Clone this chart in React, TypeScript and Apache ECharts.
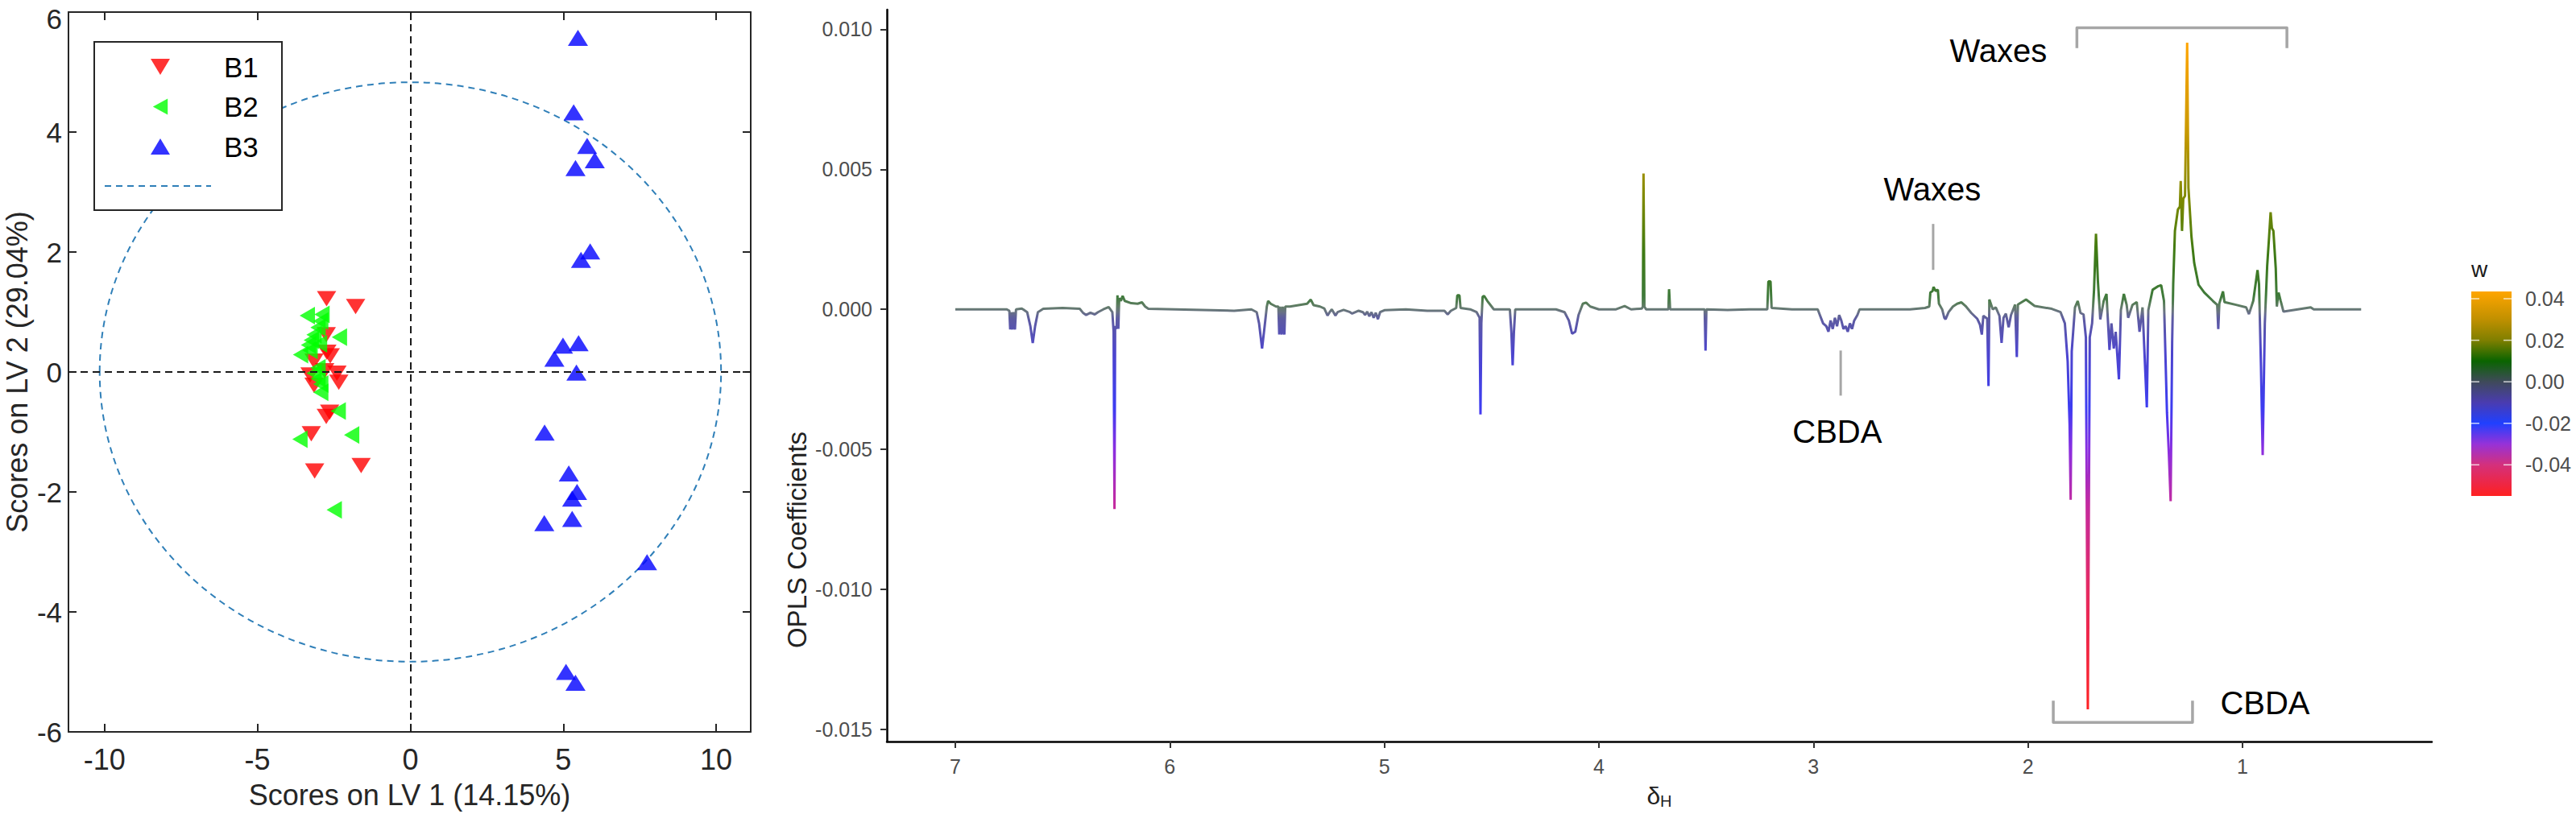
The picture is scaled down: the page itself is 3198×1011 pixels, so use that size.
import React, { useEffect, useRef } from "react";
import * as echarts from "echarts";

const W = 3198;
const H = 1011;
const FONT = "Liberation Sans";

// ---------- Left panel: PLS-DA scores ----------
const B1: [number, number][] = [
  [-2.74, 1.22], [-1.79, 1.09], [-2.75, 0.62], [-2.73, 0.33], [-2.62, 0.27],
  [-3.15, 0.18], [-3.28, -0.05], [-2.8, 0.02], [-2.4, -0.02], [-2.34, -0.17],
  [-3.15, -0.22], [-2.75, -0.74], [-2.64, -0.67], [-3.24, -1.03], [-3.13, -1.65],
  [-1.61, -1.56],
];
const B2: [number, number][] = [
  [-3.37, 0.94], [-2.89, 0.96], [-2.93, 0.85], [-3.02, 0.74], [-3.15, 0.62],
  [-3.24, 0.53], [-2.32, 0.58], [-3.33, 0.45], [-2.97, 0.47], [-3.59, 0.29],
  [-3.28, 0.36], [-3.02, 0.07], [-3.15, -0.02], [-3.02, -0.11], [-2.93, -0.2],
  [-2.93, -0.34], [-2.36, -0.65], [-1.92, -1.05], [-3.61, -1.12], [-2.49, -2.3],
];
const B3: [number, number][] = [
  [5.48, 5.57], [5.34, 4.33], [5.78, 3.77], [6.03, 3.53], [5.4, 3.4],
  [5.88, 2.01], [5.58, 1.87], [5.5, 0.48], [4.99, 0.44], [4.71, 0.22],
  [5.43, -0.01], [4.39, -1.01], [5.18, -1.69], [5.45, -2.0], [5.29, -2.11],
  [5.29, -2.45], [4.38, -2.52], [7.74, -3.17], [5.09, -5.0], [5.4, -5.18],
];
const ellipseRadii: [number, number] = [10.16, 4.83];
const scoreXTicks = [-10, -5, 0, 5, 10];
const scoreXRange: [number, number] = [-11.18, 11.13];
const scoreYRange: [number, number] = [-6, 6];

// ---------- Right panel: OPLS coefficients (delta ppm, coefficient) ----------
const spectrum: [number, number][] = [
  [7.0, 0], [6.8, 0], [6.76, 0], [6.748, -0.00005], [6.744, -0.00072], [6.74, -0.0001],
  [6.734, -0.00072], [6.729, -0.0001], [6.722, -0.00072], [6.717, 0], [6.69, 0.00003],
  [6.665, -0.0001], [6.65, -0.0006], [6.639, -0.0012], [6.628, -0.0006], [6.615, -0.0001],
  [6.59, 0.00002], [6.5, 0.00005], [6.42, 0.00002], [6.405, -0.00012], [6.39, -0.0002],
  [6.37, -0.00012], [6.35, -0.00018], [6.335, -0.0001], [6.31, 0], [6.285, 0.00008],
  [6.268, -0.0001], [6.262, -0.0008], [6.258, -0.00713], [6.255, -0.0006], [6.248, -0.0007],
  [6.244, 0.0005], [6.24, -0.0007], [6.236, 0.0004], [6.228, 0.0003], [6.22, 0.00048],
  [6.21, 0.0003], [6.18, 0.00022], [6.15, 0.0002], [6.13, 0.00025], [6.115, 0.0001],
  [6.1, 0.00002], [5.7, -0.00005], [5.62, 0], [5.595, -0.0001], [5.584, -0.0005],
  [5.57, -0.0014], [5.558, -0.0006], [5.548, 0.0001], [5.542, 0.0003], [5.53, 0.0002],
  [5.505, 0.0001], [5.494, 0.0001], [5.49, -0.0009], [5.486, 0.0001], [5.478, -0.0009],
  [5.474, 0.0001], [5.466, -0.0009], [5.462, 0.0001], [5.44, 0.0001], [5.4, 0.00015],
  [5.36, 0.0002], [5.343, 0.00035], [5.33, 0.00015], [5.3, 0.0001], [5.28, 0.00003],
  [5.265, -0.00022], [5.255, -0.0001], [5.245, 0], [5.228, -0.00022], [5.218, -0.0001],
  [5.19, -0.00002], [5.16, -0.0001], [5.15, -0.00015], [5.12, -0.00005], [5.1, -0.0001],
  [5.09, -0.0002], [5.08, -0.00008], [5.07, -0.00025], [5.06, -0.0001], [5.05, -0.0003],
  [5.04, -0.00012], [5.03, -0.00035], [5.02, -0.0001], [5.0, -0.00003], [4.9, 0],
  [4.8, -0.00005], [4.72, -0.00005], [4.705, -0.00018], [4.69, -0.00005], [4.665, 0.00005],
  [4.66, 0.0005], [4.65, 0.0005], [4.645, 0.00005], [4.6, 0], [4.57, -0.0001],
  [4.556, -0.0003], [4.552, -0.00375], [4.548, -0.0005], [4.542, 0.00045], [4.535, 0.00048],
  [4.52, 0.0003], [4.5, 0.0001], [4.49, 0], [4.415, 0], [4.408, -0.0008], [4.402, -0.002],
  [4.396, -0.0008], [4.39, 0], [4.2, 0], [4.16, -0.0001], [4.14, -0.0004], [4.125, -0.00087],
  [4.11, -0.0008], [4.095, -0.0002], [4.075, 0.0002], [4.06, 0.00024], [4.04, 0.0001],
  [4.0, 0], [3.92, 0], [3.88, 0.00012], [3.85, 0], [3.8, 0.00003], [3.795, 0.0001],
  [3.792, 0.00485], [3.788, 0.0001], [3.78, 0], [3.68, 0], [3.676, 0], [3.673, 0.00072],
  [3.668, 0], [3.55, 0], [3.507, 0], [3.503, -0.00147], [3.499, 0], [3.4, -0.00002],
  [3.3, 0], [3.215, 0], [3.21, 0.001], [3.2, 0.001], [3.195, 0.00005], [3.1, 0], [2.98, 0],
  [2.97, -0.0002], [2.955, -0.0005], [2.94, -0.0006], [2.93, -0.0008], [2.92, -0.0004],
  [2.91, -0.0007], [2.9, -0.0003], [2.89, -0.0006], [2.88, -0.0002], [2.87, -0.0004],
  [2.86, -0.0007], [2.85, -0.0006], [2.84, -0.0008], [2.83, -0.0005], [2.82, -0.0007],
  [2.81, -0.0004], [2.795, -0.0002], [2.785, 0], [2.7, 0], [2.55, 0], [2.48, 0.00005],
  [2.46, 0.0001], [2.455, 0.0006], [2.445, 0.00065], [2.44, 0.0008], [2.43, 0.00065],
  [2.42, 0.0007], [2.415, 0.0002], [2.4, 0], [2.39, -0.0003], [2.384, -0.00035],
  [2.37, -0.0001], [2.35, 0.0001], [2.33, 0.0002], [2.31, 0.00025], [2.291, 0.00012],
  [2.264, -0.00013], [2.237, -0.00033], [2.224, -0.00054], [2.215, -0.0009], [2.208, -0.00023],
  [2.19, -0.00033], [2.184, -0.00274], [2.18, 0.00035], [2.164, 0], [2.15, 0.00007],
  [2.133, -0.00023], [2.123, -0.0012], [2.114, -0.0003], [2.103, -0.00015], [2.09, -0.00064],
  [2.079, -0.0002], [2.06, 0.00017], [2.052, -0.0017], [2.047, 0.00017], [2.009, 0.00035],
  [1.969, 0.00012], [1.889, 0.00002], [1.848, -0.0001], [1.828, -0.0005], [1.815, -0.00185],
  [1.806, -0.0041], [1.801, -0.0068], [1.796, -0.0015], [1.781, 0.00007], [1.768, 0.0003],
  [1.755, -0.00013], [1.741, -0.00018], [1.73, -0.001], [1.721, -0.01428], [1.712, -0.001],
  [1.701, -0.0005], [1.692, 0.0007], [1.683, 0.0027], [1.674, 0.001], [1.663, -0.00036],
  [1.647, 0.0003], [1.634, 0.00055], [1.62, -0.00145], [1.611, -0.0005], [1.6, -0.0014],
  [1.591, -0.0008], [1.576, -0.0025], [1.567, -0.00003], [1.553, 0.00055], [1.54, 0.00016],
  [1.533, -0.0003], [1.513, 0.00016], [1.493, 0.00026], [1.48, -0.0008], [1.466, 0.00007],
  [1.446, -0.0035], [1.439, -0.00003], [1.419, 0.0007], [1.392, 0.00083], [1.379, 0.00086],
  [1.366, 0.0003], [1.352, -0.0037], [1.343, -0.0052], [1.335, -0.00685], [1.328, -0.0012],
  [1.323, 0.0009], [1.315, 0.0028], [1.301, 0.00357], [1.292, 0.00367], [1.288, 0.00458],
  [1.282, 0.0028], [1.276, 0.00395], [1.268, 0.00405], [1.258, 0.00952], [1.252, 0.00434],
  [1.238, 0.0026], [1.225, 0.00165], [1.205, 0.00088], [1.178, 0.0006], [1.138, 0.0003],
  [1.118, 0.00016], [1.113, -0.0007], [1.108, 0.00021], [1.091, 0.00064], [1.084, 0.00026],
  [1.03, 0.00016], [0.983, 0.00007], [0.97, -0.00017], [0.95, 0.0003], [0.93, 0.0014],
  [0.923, 0.0009], [0.914, -0.002], [0.906, -0.0052], [0.896, -0.0005], [0.885, 0.00155],
  [0.876, 0.0026], [0.869, 0.00347], [0.863, 0.0029], [0.856, 0.0028], [0.845, 0.00146],
  [0.84, 0.0001], [0.832, 0.0006], [0.822, 0.0003], [0.809, -0.00008], [0.682, 0.00007],
  [0.668, 0], [0.447, 0],
];
const ppmTicks = [7, 6, 5, 4, 3, 2, 1];
const ppmRange: [number, number] = [0.1176, 7.319];
const coefTicks = [-0.015, -0.01, -0.005, 0, 0.005, 0.01];
const coefRange: [number, number] = [-0.01543, 0.0107];
const wTicks = [0.04, 0.02, 0, -0.02, -0.04];
const wRange: [number, number] = [-0.055, 0.0435];

// annotation anchors in data units (delta, coefficient)
const textNotes = [
  { text: "Waxes", at: [2.138, 0.00922] },
  { text: "Waxes", at: [2.446, 0.00429] },
  { text: "CBDA", at: [2.889, -0.00435] },
  { text: "CBDA", at: [0.895, -0.01406] },
];
const tickNotes = [
  { x: 2.442, y: [0.00305, 0.00141] },
  { x: 2.873, y: [-0.00147, -0.00308] },
];
const bracketNotes = [
  { x: [1.772, 0.793], edge: 0.01005, tip: 0.00933 },
  { x: [1.882, 1.233], edge: -0.01475, tip: -0.01397 },
];
// y-axis title of the right panel sits level with this coefficient
const coefTitleLevel = -0.00823;

// ---------- colour helpers ----------
const spectrumColorStops: [number, string][] = [
  [-0.0145, "#ff2020"], [-0.01, "#e52a62"], [-0.007, "#c42a9e"], [-0.005, "#8a2ee0"],
  [-0.0035, "#3c3cf2"], [-0.0015, "#4d45cc"], [-0.0003, "#5e5ca0"], [0, "#6f7d76"],
  [0.0004, "#3f7a3c"], [0.002, "#3d7a14"], [0.004, "#7f8a00"], [0.0065, "#cc9a00"],
  [0.0095, "#ffa500"],
];
const wColorStops: [number, string][] = [
  [0.0435, "#ffa500"], [0.03, "#c09000"], [0.02, "#7f7f00"], [0.01, "#0a6400"],
  [0, "#3f4a5a"], [-0.01, "#4a3cb0"], [-0.02, "#2040ff"], [-0.03, "#9632d8"],
  [-0.04, "#d4307c"], [-0.055, "#ff2020"],
];

function hex(c: string) {
  return [1, 3, 5].map((i) => parseInt(c.slice(i, i + 2), 16));
}
function colorAt(stops: [number, string][], v: number) {
  const s = [...stops].sort((a, b) => a[0] - b[0]);
  if (v <= s[0][0]) return s[0][1];
  for (let i = 1; i < s.length; i++) {
    if (v <= s[i][0]) {
      const t = (v - s[i - 1][0]) / (s[i][0] - s[i - 1][0]);
      const a = hex(s[i - 1][1]);
      const b = hex(s[i][1]);
      const m = a.map((x, k) => Math.round(x + (b[k] - x) * t));
      return `rgb(${m[0]},${m[1]},${m[2]})`;
    }
  }
  return s[s.length - 1][1];
}

export default function App() {
  const ref = useRef<HTMLDivElement>(null);

  useEffect(() => {
    if (!ref.current) return;
    const chart = echarts.init(ref.current, null, { renderer: "svg", width: W, height: H });

    const vmMin = spectrumColorStops[0][0];
    const vmMax = spectrumColorStops[spectrumColorStops.length - 1][0];
    const N = 121;
    const vmColors = Array.from({ length: N }, (_, i) =>
      colorAt(spectrumColorStops, vmMin + ((vmMax - vmMin) * i) / (N - 1))
    );

    const dark = "#262626";
    const leftAxisLine = { onZero: false, lineStyle: { color: dark, width: 2 } };
    const leftTick = { inside: true, length: 10, lineStyle: { color: dark, width: 2 } };
    const leftLabel = { fontSize: 36, color: dark, fontFamily: FONT };

    const option: any = {
      animation: false,
      backgroundColor: "#ffffff",
      textStyle: { fontFamily: FONT },
      grid: [
        { left: 85, top: 15, width: 847, height: 894 },
        { left: 1101, top: 12, width: 1918, height: 909 },
      ],
      xAxis: [
        {
          gridIndex: 0, type: "value", min: scoreXRange[0], max: scoreXRange[1], position: "bottom",
          axisLine: leftAxisLine,
          axisTick: { ...leftTick, customValues: scoreXTicks },
          axisLabel: { ...leftLabel, margin: 16, customValues: scoreXTicks },
          splitLine: { show: false },
          name: "Scores on LV 1 (14.15%)", nameLocation: "middle", nameGap: 60,
          nameTextStyle: { fontSize: 36, color: dark, fontFamily: FONT },
        },
        {
          gridIndex: 0, type: "value", min: scoreXRange[0], max: scoreXRange[1], position: "top",
          axisLine: leftAxisLine,
          axisTick: { ...leftTick, customValues: scoreXTicks },
          axisLabel: { show: false },
          splitLine: { show: false },
        },
        {
          gridIndex: 1, type: "value", inverse: true, min: ppmRange[0], max: ppmRange[1],
          axisLine: { onZero: false, lineStyle: { color: "#000", width: 2.5 } },
          axisTick: { length: 8, customValues: ppmTicks, lineStyle: { color: "#333", width: 2 } },
          axisLabel: { customValues: ppmTicks, fontSize: 25, color: "#4d4d4d", margin: 18, fontFamily: FONT },
          splitLine: { show: false },
          name: "{d|δ}{s|H}", nameLocation: "middle", nameGap: 50,
          nameTextStyle: {
            rich: {
              d: { fontSize: 30, color: "#222", fontFamily: FONT },
              s: { fontSize: 20, color: "#222", fontFamily: FONT, padding: [14, 0, 0, 0] },
            },
          },
        },
      ],
      yAxis: [
        {
          gridIndex: 0, type: "value", min: scoreYRange[0], max: scoreYRange[1], interval: 2,
          axisLine: leftAxisLine, axisTick: leftTick,
          axisLabel: {
            ...leftLabel, fontSize: 35, margin: 8,
            formatter: (v: number) => (v === scoreYRange[1] ? `{t|${v}}` : String(v)),
            rich: { t: { fontSize: 35, color: dark, fontFamily: FONT, padding: [16, 0, 0, 0] } },
          },
          splitLine: { show: false },
          name: "Scores on LV 2 (29.04%)", nameLocation: "middle", nameGap: 46,
          nameTextStyle: { fontSize: 36, color: dark, fontFamily: FONT },
        },
        {
          gridIndex: 0, type: "value", min: scoreYRange[0], max: scoreYRange[1], interval: 2,
          position: "right",
          axisLine: leftAxisLine, axisTick: leftTick, axisLabel: { show: false },
          splitLine: { show: false },
        },
        {
          gridIndex: 1, type: "value", min: coefRange[0], max: coefRange[1],
          axisLine: { onZero: false, lineStyle: { color: "#000", width: 2.5 } },
          axisTick: { length: 8, customValues: coefTicks, lineStyle: { color: "#333", width: 2 } },
          axisLabel: {
            customValues: coefTicks, fontSize: 25, color: "#4d4d4d", margin: 18, fontFamily: FONT,
            formatter: (v: number) => v.toFixed(3),
          },
          splitLine: { show: false },
        },
      ],
      legend: {
        orient: "vertical", left: 187, top: 63, padding: 0,
        itemWidth: 24, itemHeight: 20, itemGap: 9.5, selectedMode: false, z: 10,
        data: [
          { name: "B1", icon: "path://M0 0 L24 0 L12 20 Z" },
          { name: "B2", icon: "path://M22 0 L22 24 L0 12 Z" },
          { name: "B3", icon: "path://M12 0 L24 20 L0 20 Z" },
        ],
        textStyle: { fontSize: 35, color: "#000", fontFamily: FONT, lineHeight: 40, padding: [0, 0, 0, 62] },
      },
      visualMap: {
        show: false, type: "continuous", seriesIndex: 3, dimension: 1,
        min: vmMin, max: vmMax, inRange: { color: vmColors },
      },
      series: [
        {
          name: "B1", type: "scatter", xAxisIndex: 0, yAxisIndex: 0, data: B1,
          symbol: "triangle", symbolRotate: 180, symbolSize: [24, 19],
          itemStyle: { color: "#ff0000" },
          markLine: {
            silent: true, symbol: "none", label: { show: false },
            lineStyle: { color: "#1a1a1a", width: 2, type: [9, 6] },
            data: [{ xAxis: 0 }, { yAxis: 0 }],
          },
        },
        {
          name: "B2", type: "scatter", xAxisIndex: 0, yAxisIndex: 0, data: B2,
          symbol: "triangle", symbolRotate: 90, symbolSize: [22, 19],
          itemStyle: { color: "#00ff00" },
        },
        {
          name: "B3", type: "scatter", xAxisIndex: 0, yAxisIndex: 0, data: B3,
          symbol: "triangle", symbolSize: [25, 20],
          itemStyle: { color: "#0000ff" },
        },
        {
          name: "OPLS", type: "line", xAxisIndex: 2, yAxisIndex: 2, data: spectrum,
          showSymbol: false, lineStyle: { width: 3 }, z: 3,
        },
      ],
    };

    chart.setOption(option);

    // ---- graphics that depend on the axes ----
    const g0 = (p: number[]) => chart.convertToPixel({ gridIndex: 0 }, p) as number[];
    const g1 = (p: number[]) => chart.convertToPixel({ gridIndex: 1 }, p) as number[];
    const c0 = g0([0, 0]);
    const rx = g0([ellipseRadii[0], 0])[0] - c0[0];
    const ry = c0[1] - g0([0, ellipseRadii[1]])[1];

    const elements: any[] = [];
    elements.push({
      type: "ellipse", silent: true, z: 1,
      shape: { cx: c0[0], cy: c0[1], rx, ry },
      style: { fill: "none", stroke: "#2f7fb8", lineWidth: 2, lineDash: [8, 6] },
    });
    // legend box
    elements.push({
      type: "rect", silent: true, z: 5,
      shape: { x: 117, y: 52, width: 233, height: 209 },
      style: { fill: "#ffffff", stroke: dark, lineWidth: 2 },
    });
    elements.push({
      type: "line", silent: true, z: 6,
      shape: { x1: 130, y1: 231, x2: 262, y2: 231 },
      style: { stroke: "#2f7fb8", lineWidth: 2, lineDash: [8, 6] },
    });

    // right panel y-axis title
    const yAxisPix = g1([ppmRange[1], coefTitleLevel]);
    elements.push({
      type: "text", silent: true, z: 20,
      x: yAxisPix[0] - 112, y: yAxisPix[1], rotation: Math.PI / 2,
      style: {
        text: "OPLS Coefficients", x: 0, y: 0, fontSize: 33, fontFamily: FONT, fill: "#222",
        align: "center", verticalAlign: "middle", textAlign: "center", textVerticalAlign: "middle",
      },
    });

    // annotations on spectrum
    textNotes.forEach((n) => {
      const p = g1(n.at);
      elements.push({
        type: "text", silent: true, z: 20,
        style: {
          text: n.text, x: p[0], y: p[1], fontSize: 40, fontFamily: FONT, fill: "#000",
          align: "center", verticalAlign: "middle", textAlign: "center", textVerticalAlign: "middle",
        },
      });
    });
    tickNotes.forEach((n) => {
      const a = g1([n.x, n.y[0]]);
      const b = g1([n.x, n.y[1]]);
      elements.push({
        type: "line", silent: true, z: 20,
        shape: { x1: a[0], y1: a[1], x2: b[0], y2: b[1] },
        style: { stroke: "#a6a6a6", lineWidth: 3 },
      });
    });
    bracketNotes.forEach((n) => {
      const pts = [
        g1([n.x[0], n.tip]), g1([n.x[0], n.edge]), g1([n.x[1], n.edge]), g1([n.x[1], n.tip]),
      ];
      elements.push({
        type: "polyline", silent: true, z: 20,
        shape: { points: pts },
        style: { stroke: "#a6a6a6", lineWidth: 3.5, fill: "none", lineJoin: "round" },
      });
    });

    // colour bar for w
    const barX = 3068, barY = 362, barW = 50, barH = 254;
    const wToY = (v: number) => barY + ((wRange[1] - v) / (wRange[1] - wRange[0])) * barH;
    elements.push({
      type: "rect", silent: true, z: 20,
      shape: { x: barX, y: barY, width: barW, height: barH },
      style: {
        fill: {
          type: "linear", x: 0, y: 0, x2: 0, y2: 1,
          colorStops: wColorStops.map(([v, c]) => ({
            offset: (wRange[1] - v) / (wRange[1] - wRange[0]), color: c,
          })),
        },
      },
    });
    wTicks.forEach((v) => {
      const y = wToY(v);
      elements.push({
        type: "line", silent: true, z: 21,
        shape: { x1: barX, y1: y, x2: barX + 10, y2: y },
        style: { stroke: "rgba(255,255,255,0.75)", lineWidth: 1.5 },
      });
      elements.push({
        type: "line", silent: true, z: 21,
        shape: { x1: barX + barW - 10, y1: y, x2: barX + barW, y2: y },
        style: { stroke: "rgba(255,255,255,0.75)", lineWidth: 1.5 },
      });
      elements.push({
        type: "text", silent: true, z: 21,
        style: {
          text: v.toFixed(2), x: barX + barW + 17, y, fontSize: 25, fontFamily: FONT, fill: "#4d4d4d",
          align: "left", verticalAlign: "middle", textAlign: "left", textVerticalAlign: "middle",
        },
      });
    });
    elements.push({
      type: "text", silent: true, z: 21,
      style: {
        text: "w", x: barX, y: 334, fontSize: 28, fontFamily: FONT, fill: "#1a1a1a",
        align: "left", verticalAlign: "middle", textAlign: "left", textVerticalAlign: "middle",
      },
    });

    chart.setOption({ graphic: { elements } });

    return () => chart.dispose();
  }, []);

  return (
    <div
      ref={ref}
      style={{ position: "absolute", left: 0, top: 0, width: W, height: H, background: "#ffffff" }}
    />
  );
}
